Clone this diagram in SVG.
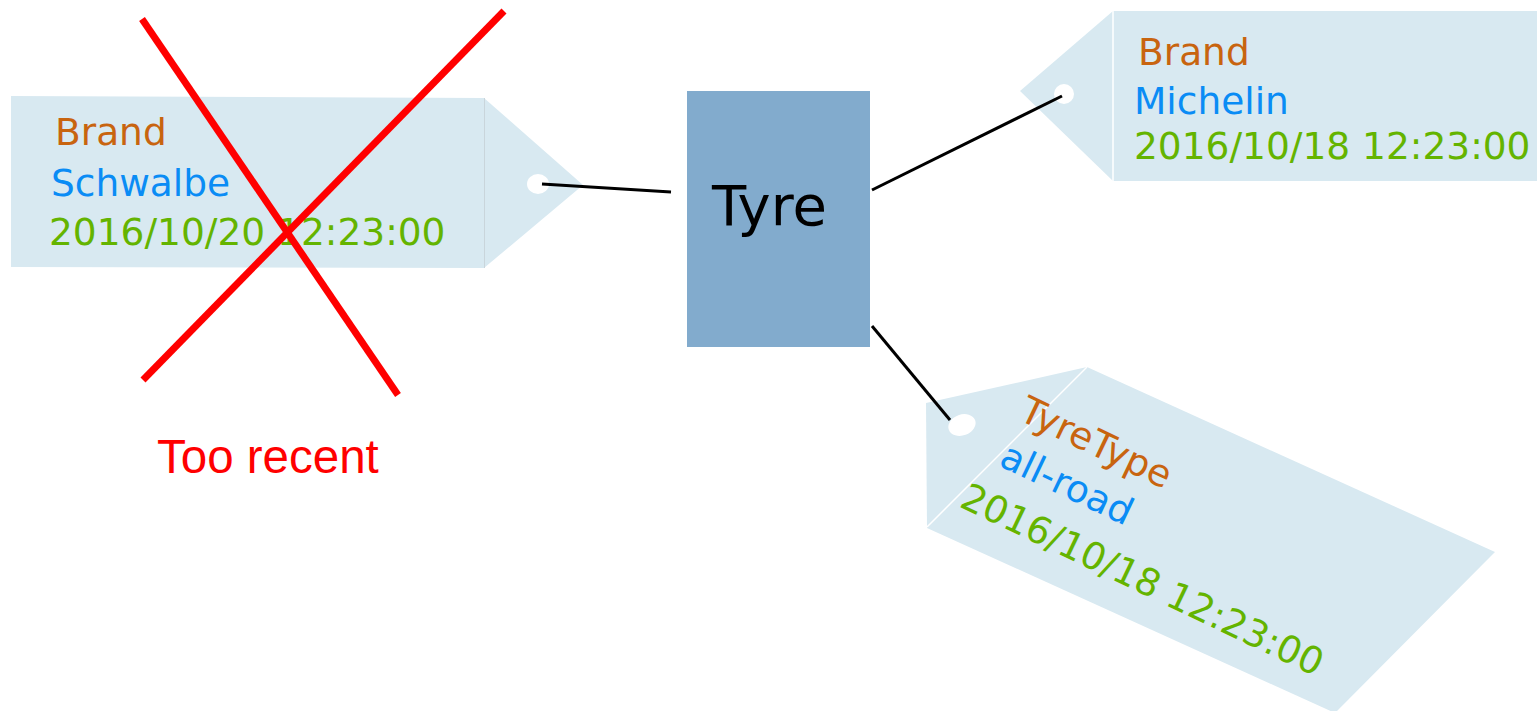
<svg xmlns="http://www.w3.org/2000/svg" width="1537" height="711" viewBox="0 0 1537 711">
  <style>
    .tag { fill: #d8e9f1; }
    .hole { fill: #ffffff; }
    .fold { stroke: #ffffff; stroke-width: 1.5; fill: none; }
    .edge { stroke: #c9d5db; stroke-width: 1; fill: none; }
    .lbl { font-family: "DejaVu Sans", sans-serif; font-size: 37.5px; }
    .key { fill: #c8640f; }
    .val { fill: #0a8cf5; }
    .ts { fill: #64b400; }
    .conn { stroke: #000000; stroke-width: 3; fill: none; }
    .cross { stroke: #ff0000; stroke-width: 7; fill: none; }
  </style>
  <rect width="1537" height="711" fill="#ffffff"/>

  <!-- central entity -->
  <g id="tyre">
    <rect x="687" y="91" width="183" height="256" fill="#82abcd"/>
    <text x="712" y="225" font-family="DejaVu Sans, sans-serif" font-size="56" fill="#000000">Tyre</text>
  </g>

  <!-- rejected tag on the left -->
  <g id="tag-schwalbe">
    <polygon class="tag" points="11,96 484,98 583,185 484,268 11,267"/>
    <line class="edge" x1="484.5" y1="98" x2="484.5" y2="268"/>
    <ellipse class="hole" cx="538" cy="184" rx="11" ry="10"/>
    <text class="lbl key" x="55" y="145">Brand</text>
    <text class="lbl val" x="51" y="196">Schwalbe</text>
    <text class="lbl ts" x="49" y="245">2016/10/20 12:23:00</text>
  </g>

  <!-- tag on the right -->
  <g id="tag-michelin">
    <polygon class="tag" points="1113,11 1537,11 1537,181 1113,181 1020,91"/>
    <line class="fold" x1="1113" y1="11" x2="1113" y2="181"/>
    <circle class="hole" cx="1064" cy="94" r="10"/>
    <text class="lbl key" x="1138" y="65">Brand</text>
    <text class="lbl val" x="1134" y="114">Michelin</text>
    <text class="lbl ts" x="1134" y="159">2016/10/18 12:23:00</text>
  </g>

  <!-- tilted tag at the bottom -->
  <g id="tag-tyretype">
    <polygon class="tag" points="927,528 926,403 1087,367 1495,552 1335,713"/>
    <line class="fold" x1="927" y1="527" x2="1087" y2="367"/>
    <ellipse class="hole" cx="962" cy="425" rx="14" ry="10.5" transform="rotate(-20 962 425)"/>
    <g transform="translate(958,506) rotate(25.5)">
      <text class="lbl key" x="16" y="-104">TyreType</text>
      <text class="lbl val" x="18" y="-54">all-road</text>
      <text class="lbl ts" x="0" y="0">2016/10/18 12:23:00</text>
    </g>
  </g>

  <!-- strings from the Tyre box into the tag holes -->
  <g id="connectors">
    <line class="conn" x1="542" y1="184" x2="671" y2="192"/>
    <line class="conn" x1="872" y1="190" x2="1062" y2="96"/>
    <line class="conn" x1="872" y1="326" x2="950" y2="420"/>
  </g>

  <!-- strike-through and reason -->
  <g id="rejection">
    <line class="cross" x1="142" y1="19" x2="398" y2="395"/>
    <line class="cross" x1="504" y1="11" x2="143" y2="380"/>
    <text x="157" y="473" font-family="Liberation Sans, Arial, sans-serif" font-size="47.5" fill="#ff0000">Too recent</text>
  </g>
</svg>
